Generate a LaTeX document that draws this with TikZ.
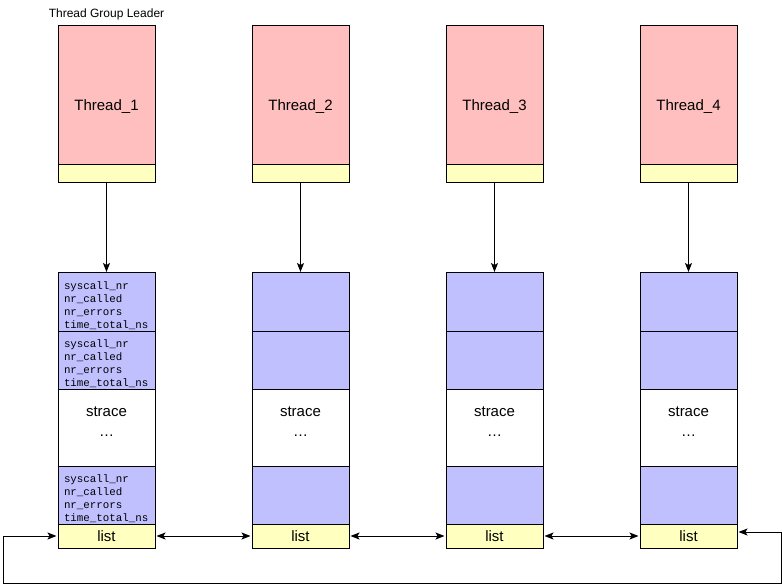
\documentclass[tikz,border=0pt]{standalone}
\usepackage{fontspec}
\setmainfont{Liberation Sans}
\setmonofont{Liberation Mono}
\usetikzlibrary{arrows.meta,positioning}
\definecolor{threadpink}{RGB}{255,191,191}
\definecolor{tailyellow}{RGB}{255,255,192}
\definecolor{statblue}{RGB}{192,192,255}

\tikzset{
  cell/.style={draw=black, line width=1pt, minimum width=97pt, inner sep=0pt,
    outer sep=0pt, anchor=north west},
  threadbox/.style={cell, fill=threadpink, minimum height=139pt,
    text height=34pt, text depth=3pt, font=\fontsize{15}{18}\selectfont},
  tailbox/.style={cell, fill=tailyellow, minimum height=18pt},
  statbox/.style={cell, fill=statblue, minimum height=58pt, text width=85pt,
    inner xsep=6pt, align=left, font=\ttfamily\fontsize{10.8}{13}\selectfont},
  dotsbox/.style={cell, fill=white, minimum height=77pt, align=center,
    text depth=12pt, font=\fontsize{15}{20}\selectfont},
  listbox/.style={cell, fill=tailyellow, minimum height=24pt,
    font=\fontsize{15}{18}\selectfont},
}
\newcommand{\statlines}{\parbox[c][55pt][b]{85pt}{\raggedright
  syscall\_nr\\nr\_called\\nr\_errors\\time\_total\_ns}}

\begin{document}
\begin{tikzpicture}[x=1pt, y=-1pt, line width=1pt,
  >={Stealth[length=9pt,width=7pt,inset=2pt]}]
\def\colstep{194}
\useasboundingbox (0,0) rectangle (782,584);

% one column per thread: task box on top, stat list below
\foreach \i in {1,...,4}{
  \node[threadbox] (t\i) at ({58+(\i-1)*\colstep},25) {Thread\_\i};
  \node[tailbox, below=0pt of t\i] (y\i) {};
  \node[statbox, below=90pt of y\i, minimum height=59pt] (a\i) {\ifnum\i=1 \statlines\fi};
  \node[statbox, below=0pt of a\i] (b\i) {\ifnum\i=1 \statlines\fi};
  \node[dotsbox, below=0pt of b\i] (m\i) {strace\\…};
  \node[statbox, below=0pt of m\i] (c\i) {\ifnum\i=1 \statlines\fi};
  \node[listbox, below=0pt of c\i] (l\i) {list};
  \draw[->] (y\i) -- (a\i);
}

\node[font=\fontsize{12}{14}\selectfont, inner sep=0pt, above=5pt of t1] (leader)
  {Thread Group Leader};

% list links
\foreach \i [evaluate=\i as \j using int(\i+1)] in {1,2,3}{
  \draw[<->, shorten <=1.5pt, shorten >=1.5pt] (l\i) -- (l\j);
}

% wrap-around link
\coordinate (loopR) at (781,583);
\coordinate (loopL) at (3,583);
\draw[<->, shorten <=1.5pt, shorten >=1.5pt]
  ([yshift=4pt]l4.east) -| (loopR) -- (loopL) |- (l1.west);
\end{tikzpicture}
\end{document}
